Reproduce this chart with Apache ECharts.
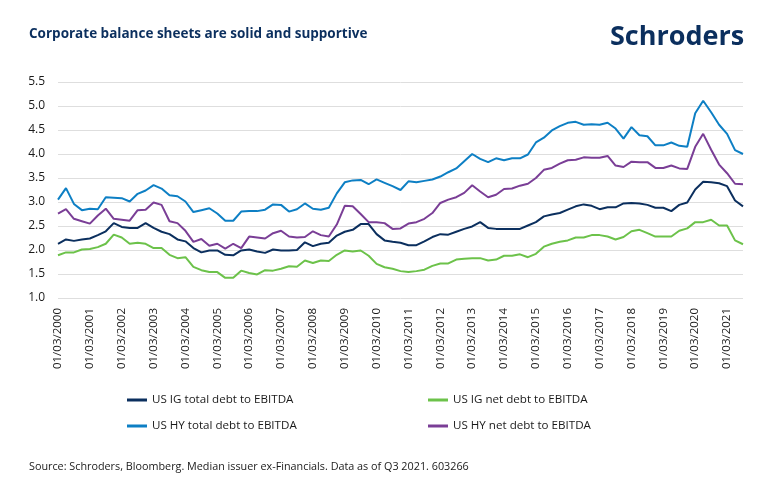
<!DOCTYPE html>
<html><head><meta charset="utf-8">
<script src="https://cdn.jsdelivr.net/npm/echarts@6/dist/echarts.min.js"></script>
<style>html,body{margin:0;padding:0;background:#fff}#c{width:770px;height:493px}</style>
</head><body><div id="c"></div>
<script>
// Quarterly categories 2000Q1 .. 2021Q3 (dd/mm/yyyy)
const years = [];
for (let y = 2000; y <= 2021; y++) years.push(y);
const months = ['03','06','09','12'];
const categories = [];
years.forEach(y => months.forEach(m => { if (!(y === 2021 && m === '12')) categories.push('01/' + m + '/' + y); }));

const yTicks = ['1.0','1.5','2.0','2.5','3.0','3.5','4.0','4.5','5.0','5.5'];

const igTotal = [2.13,2.22,2.19,2.22,2.24,2.31,2.39,2.56,2.48,2.46,2.46,2.56,2.46,2.38,2.33,2.22,2.18,2.04,1.95,1.99,
1.99,1.90,1.89,1.99,2.01,1.97,1.94,2.01,1.99,1.99,2.00,2.16,2.08,2.13,2.15,2.30,2.38,2.42,2.54,2.54,
2.33,2.20,2.17,2.15,2.10,2.10,2.18,2.27,2.33,2.32,2.38,2.44,2.49,2.58,2.46,2.44,2.44,2.44,2.44,2.51,
2.58,2.70,2.74,2.77,2.84,2.91,2.95,2.92,2.85,2.89,2.89,2.97,2.98,2.97,2.94,2.88,2.88,2.81,2.94,2.99,
3.26,3.42,3.41,3.39,3.33,3.03,2.91];

const igNet = [1.89,1.95,1.95,2.01,2.02,2.06,2.13,2.32,2.26,2.13,2.15,2.13,2.04,2.04,1.90,1.83,1.85,1.65,1.58,1.54,
1.54,1.42,1.42,1.57,1.52,1.49,1.58,1.57,1.61,1.66,1.65,1.78,1.73,1.78,1.77,1.90,1.99,1.97,1.99,1.88,
1.71,1.64,1.61,1.56,1.54,1.56,1.59,1.67,1.72,1.72,1.80,1.82,1.83,1.83,1.78,1.80,1.88,1.88,1.91,1.85,
1.92,2.07,2.13,2.17,2.20,2.26,2.26,2.31,2.31,2.28,2.22,2.27,2.39,2.42,2.35,2.28,2.28,2.28,2.40,2.45,
2.58,2.58,2.63,2.51,2.51,2.20,2.12];

const hyTotal = [3.05,3.29,2.96,2.83,2.86,2.85,3.10,3.09,3.08,3.01,3.17,3.24,3.35,3.28,3.14,3.12,3.01,2.79,2.83,2.87,
2.76,2.61,2.61,2.80,2.81,2.81,2.84,2.95,2.94,2.80,2.85,2.97,2.86,2.84,2.88,3.18,3.41,3.45,3.46,3.37,
3.47,3.40,3.33,3.25,3.43,3.41,3.44,3.47,3.53,3.62,3.70,3.85,4.00,3.90,3.83,3.91,3.87,3.91,3.91,3.99,
4.24,4.34,4.49,4.58,4.65,4.67,4.61,4.62,4.61,4.65,4.53,4.32,4.56,4.39,4.37,4.18,4.18,4.24,4.17,4.15,
4.85,5.11,4.87,4.61,4.42,4.08,4.00];

const hyNet = [2.76,2.85,2.65,2.60,2.55,2.72,2.86,2.65,2.63,2.61,2.83,2.84,2.99,2.94,2.60,2.56,2.40,2.17,2.23,2.09,
2.13,2.03,2.13,2.04,2.28,2.26,2.24,2.35,2.40,2.28,2.26,2.27,2.39,2.31,2.28,2.53,2.92,2.91,2.75,2.58,
2.58,2.56,2.44,2.45,2.55,2.58,2.65,2.77,2.98,3.05,3.10,3.19,3.35,3.22,3.10,3.15,3.27,3.28,3.34,3.38,
3.50,3.67,3.71,3.80,3.87,3.88,3.93,3.92,3.92,3.96,3.76,3.73,3.84,3.83,3.83,3.71,3.71,3.76,3.70,3.69,
4.15,4.42,4.09,3.78,3.60,3.38,3.37];

const seriesNames = ['US IG total debt to EBITDA','US IG net debt to EBITDA','US HY total debt to EBITDA','US HY net debt to EBITDA'];
const colors = ['#0b2f5e','#6cc24a','#0d7fc4','#7a3e96'];
const seriesData = [igTotal, igNet, hyTotal, hyNet];

const chart = echarts.init(document.getElementById('c'), null, {renderer:'canvas'});
const font = '"Open Sans", "Noto Sans", sans-serif';
const legendPos = [[127,394],[428,394],[127,420],[428,420]];
const legends = seriesNames.map((n,i)=>({
  data:[n], left:legendPos[i][0], top:legendPos[i][1], padding:0,
  itemWidth:20, itemHeight:3, itemGap:0, icon:'rect', selectedMode:false,
  textStyle:{fontFamily:font, fontSize:11.6, color:'#1a1a1a', padding:[0,0,0,0]}
}));

chart.setOption({
  animation:false,
  backgroundColor:'#fff',
  title:[
    {text:'Corporate balance sheets are solid and supportive', left:24, top:22,
     textStyle:{fontFamily:font, fontSize:13.5, fontWeight:'bold', color:'#0b2f5e'}},
    {text:'Schroders', left:605, top:19,
     textStyle:{fontFamily:font, fontSize:27, fontWeight:'bold', color:'#0b2f5e'}},
    {text:'Source: Schroders, Bloomberg. Median issuer ex-Financials. Data as of Q3 2021. 603266', left:24, top:456,
     textStyle:{fontFamily:font, fontSize:10.8, fontWeight:'normal', color:'#1a1a1a'}}
  ],
  legend:legends,
  grid:{left:58, right:27, top:82, bottom:195},
  xAxis:{
    type:'category', data:categories, boundaryGap:false,
    axisLine:{show:false}, axisTick:{show:false},
    axisLabel:{interval:3, rotate:90, fontFamily:font, fontSize:11.5, color:'#1a1a1a', margin:10},
    splitLine:{show:false}
  },
  yAxis:{
    type:'value', min:1.0, max:5.5, interval:0.5,
    axisLine:{show:false}, axisTick:{show:false},
    axisLabel:{fontFamily:font, fontSize:12, color:'#1a1a1a', margin:13,
      formatter:(v)=>yTicks[Math.round((v-1)/0.5)] || v.toFixed(1)},
    splitLine:{lineStyle:{color:'#dedede', width:1}}
  },
  series: seriesNames.map((n,i)=>({
    name:n, type:'line', data:seriesData[i], symbol:'none', showSymbol:false,
    lineStyle:{color:colors[i], width:2}, itemStyle:{color:colors[i]}, z: i===0?5:3
  }))
});
</script></body></html>
